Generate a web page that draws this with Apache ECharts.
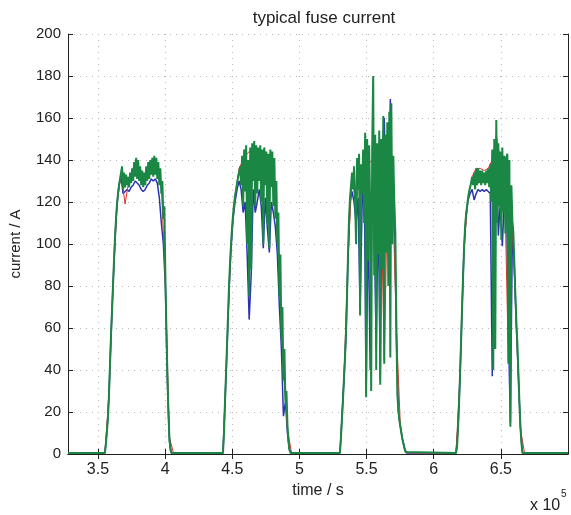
<!DOCTYPE html>
<html>
<head>
<meta charset="utf-8">
<script src="https://cdn.jsdelivr.net/npm/echarts@6/dist/echarts.min.js"></script>
<style>
html,body{margin:0;padding:0;background:#fff;}
#chart{width:571px;height:515px;}
</style>
</head>
<body>
<div id="chart"></div>
<script>
// ---- data (time in units of 1e5 s, current in A) ----
const chartTitle = 'typical fuse current';
const xName = 'time / s';
const yName = 'current / A';
const timeMin = 3.277;
const timeMax = 7.0;
const xTickValues = [3.5, 4, 4.5, 5, 5.5, 6, 6.5];
const yMin = 0, yMax = 200, yStep = 20;
const baseline = 0.5;

// start time of each pulse record
const pulseStart = [3.552, 4.431, 5.302, 6.166];
// sampling interval of each trace
const greenStep = 0.0075;
const blueStep = 0.015;
const redStep = 0.03;

// green trace (drawn on top)
const greenP1 = [0.5,5,11,17,28,42,56,68,80,92,103,112,119,124,128,131,134,137,
  126,134,127,133,128,132,127,134,129,136,130,139,132,141,131,140,130,137,128,135,
  127,134,128,137,130,139,131,140,133,141,132,142,133,141,131,139,128,136,124,130,
  112,118,85,60,38,20,8,2,0.5];
const greenP2 = [0.5,10,25,38,52,66,80,91,100,108,114,119,123,126,129,132,134,137,
  128,142,118,145,125,147,100,140,75,146,
  88,148,130,149,118,147,124,146,130,147,
  120,145,100,146,128,144,110,143,98,145,
  127,144,118,141,112,130,
  100,115,75,95,55,70,35,50,25,30,14,6,2,0.5,0.5];
const greenP3 = [0.5,8,17,26,36,46,58,75,95,112,122,128,134,
  126,137,121,100,141,126,143,66,138,124,
  145,110,153,27,150,92,147,118,30,146,
  180,85,152,40,148,95,154,33,150,88,
  161,43,152,96,158,80,163,46,167,100,
  142,118,105,62,28,21,16,13,10,7,5,3,1,0.5];
const greenP4 = [0.5,3,12,24,37,53,69,84,98,108,
  114,118,122,125,127,129,132,128,134,126,
  136,128,136,129,135,128,135,129,134,128,
  135,129,136,127,138,120,145,40,150,50,
  159,110,148,118,144,102,146,115,142,105,
  141,143,43,140,13,128,111,105,90,75,
  62,52,38,24,13,5,0.5];

// blue trace
const blueP1 = [0.5,11,28,56,80,103,119,128,132,
  124,125,126,125,127,128,130,129,128,126,125,126,128,129,131,130,131,129,122,110,100,80,35,6,0.5];
const blueP2 = [0.5,24,50,78,98,112,120,126,130,
  126,115,120,95,64,85,126,115,120,126,
  118,98,122,108,96,120,115,108,95,70,
  50,18,25,10,2,0.5];
const blueP3 = [0.5,17,36,56,93,120,125,120,110,122,
  69,118,140,28,115,40,130,110,50,120,
  35,145,160,110,120,169,110,120,55,20,
  13,7,3,0.5];
const blueP4 = [0.5,12,37,69,98,114,121,124,126,121,
  124,126,125,126,125,126,125,124,37,125,
  150,104,120,99,122,130,60,15,108,88,
  60,36,12,0.5];

// red trace
const redP1 = [0.5,28,80,119,134,119,131,134,135,131,132,135,137,136,128,82,8,0.5];
const redP2 = [0.5,52,100,123,136,140,143,145,146,145,142,140,142,125,80,40,12,0.5];
const redP3 = [0.5,36,94,132,118,135,140,138,140,88,140,45,145,130,60,13,2,0.5];
const redP4 = [0.5,37,98,122,132,136,136,135,136,140,152,140,135,45,110,60,12,0.5];

function buildTrace(pulses, step) {
  const pts = [[timeMin, baseline]];
  pulses.forEach(function (vals, k) {
    vals.forEach(function (v, i) {
      pts.push([+(pulseStart[k] + i * step).toFixed(5), v]);
    });
  });
  pts.push([timeMax, baseline]);
  return pts;
}

const axisColor = '#222';
const textColor = '#222';
const fontFamily = '"Liberation Sans", Arial, Helvetica, sans-serif';

const chart = echarts.init(document.getElementById('chart'), null, {renderer: 'canvas'});
chart.setOption({
  animation: false,
  backgroundColor: '#ffffff',
  textStyle: {fontFamily: fontFamily},
  title: {
    text: chartTitle,
    left: 319,
    top: 5,
    textAlign: 'center',
    textStyle: {fontSize: 17, fontWeight: 'normal', color: textColor, fontFamily: fontFamily}
  },
  grid: {left: 68, right: 3, top: 34, bottom: 61, containLabel: false},
  xAxis: [{
    type: 'value',
    position: 'bottom',
    min: timeMin,
    max: timeMax,
    name: xName,
    nameLocation: 'middle',
    nameGap: 29,
    nameTextStyle: {fontSize: 16, color: textColor, fontFamily: fontFamily},
    axisLine: {show: true, lineStyle: {color: axisColor, width: 1}},
    axisTick: {show: true, inside: true, length: 5, customValues: xTickValues, lineStyle: {color: axisColor}},
    axisLabel: {show: true, customValues: xTickValues, fontSize: 16, color: textColor, margin: 8, fontFamily: fontFamily,
      formatter: function (v) { return String(v); }},
    splitLine: {show: true, lineStyle: {color: '#b8b8b8', type: [1, 5], width: 1}}
  }, {
    type: 'value',
    position: 'top',
    min: timeMin,
    max: timeMax,
    axisLine: {show: true, lineStyle: {color: axisColor, width: 1}},
    axisTick: {show: true, inside: true, length: 5, customValues: xTickValues, lineStyle: {color: axisColor}},
    axisLabel: {show: false},
    splitLine: {show: false}
  }],
  yAxis: [{
    type: 'value',
    position: 'left',
    min: yMin,
    max: yMax,
    interval: yStep,
    name: yName,
    nameLocation: 'middle',
    nameGap: 45,
    nameTextStyle: {fontSize: 15, color: textColor, fontFamily: fontFamily},
    axisLine: {show: true, lineStyle: {color: axisColor, width: 1}},
    axisTick: {show: true, inside: true, length: 5, lineStyle: {color: axisColor}},
    axisLabel: {show: true, fontSize: 15, color: textColor, margin: 7, fontFamily: fontFamily},
    splitLine: {show: true, lineStyle: {color: '#b8b8b8', type: [1, 5], width: 1}}
  }, {
    type: 'value',
    position: 'right',
    min: yMin,
    max: yMax,
    interval: yStep,
    axisLine: {show: true, lineStyle: {color: axisColor, width: 1}},
    axisTick: {show: true, inside: true, length: 5, lineStyle: {color: axisColor}},
    axisLabel: {show: false},
    splitLine: {show: false}
  }],
  graphic: [
    {type: 'text', left: 530, top: 498, style: {text: 'x 10', fontSize: 16, fill: textColor, fontFamily: fontFamily}},
    {type: 'text', left: 561, top: 489, style: {text: '5', fontSize: 10, fill: textColor, fontFamily: fontFamily}}
  ],
  series: [
    {type: 'line', name: 'blue', data: buildTrace([blueP1, blueP2, blueP3, blueP4], blueStep),
      showSymbol: false, lineStyle: {color: '#2b33b5', width: 1.5}, itemStyle: {color: '#2b33b5'}, z: 2},
    {type: 'line', name: 'red', data: buildTrace([redP1, redP2, redP3, redP4], redStep),
      showSymbol: false, lineStyle: {color: '#d8342c', width: 1}, itemStyle: {color: '#d8342c'}, z: 3},
    {type: 'line', name: 'green', data: buildTrace([greenP1, greenP2, greenP3, greenP4], greenStep),
      showSymbol: false, lineStyle: {color: '#1a8745', width: 2}, itemStyle: {color: '#1a8745'}, z: 4}
  ]
});
</script>
</body>
</html>
